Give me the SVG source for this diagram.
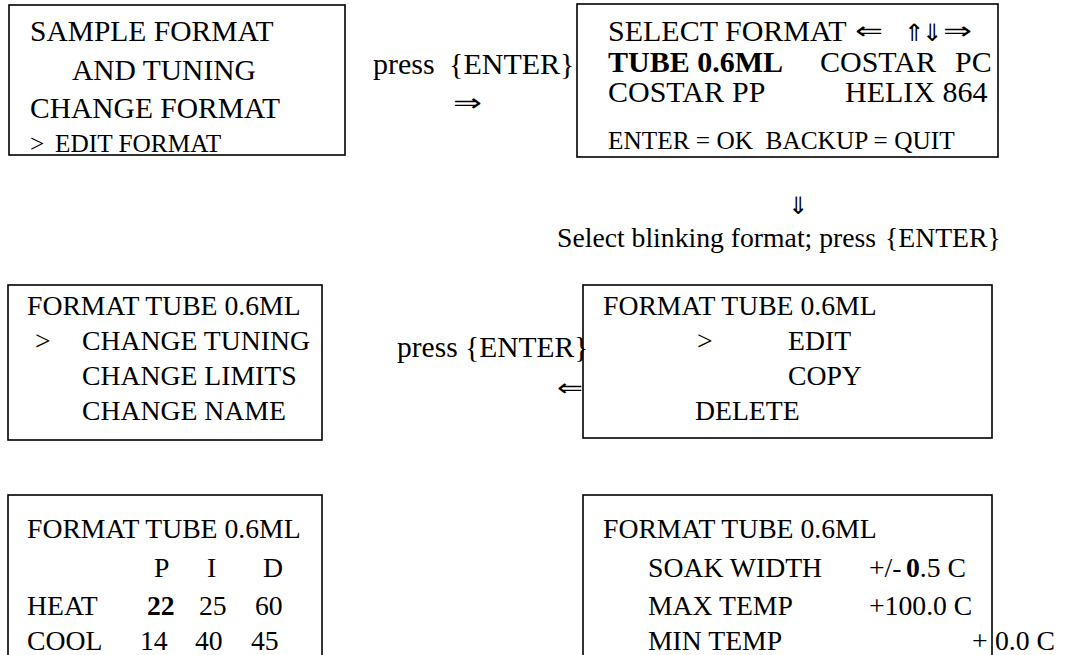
<svg xmlns="http://www.w3.org/2000/svg" width="1083" height="655" viewBox="0 0 1083 655" font-family="'Liberation Serif', 'Times New Roman', Times, 'DejaVu Serif', serif">
<style>
.box{fill:#fff;stroke:#000;stroke-width:1.6}
text{fill:#000}
.t30{font-size:30px}
.t29{font-size:29.5px}
.t27{font-size:27.7px}
.t25{font-size:25.3px}
.b{font-weight:bold}
.ar{font-family:"DejaVu Sans","DejaVu Serif",sans-serif}
</style>
<rect width="1083" height="655" fill="#fff"/>
<g id="node-sample">
<rect class="box" x="9" y="5" width="336" height="150"/>
<text class="t29" x="30" y="41">SAMPLE FORMAT</text>
<text class="t29" x="72" y="80">AND TUNING</text>
<text class="t29" x="30" y="118">CHANGE FORMAT</text>
<text class="t25" y="152"><tspan x="30">&gt;</tspan><tspan x="55">EDIT FORMAT</tspan></text>
</g>
<g id="node-select">
<rect class="box" x="577" y="4" width="421" height="153"/>
<text class="t30" x="608" y="41">SELECT FORMAT</text>
<text class="ar" x="855" y="39" font-size="24" textLength="28" lengthAdjust="spacingAndGlyphs">⇐</text>
<text class="ar" x="904" y="41" font-size="24">⇑</text>
<text class="ar" x="922" y="41" font-size="24">⇓</text>
<text class="ar" x="943" y="39" font-size="24" textLength="29" lengthAdjust="spacingAndGlyphs">⇒</text>
<text class="t30" y="72"><tspan class="b" x="608">TUBE 0.6ML</tspan><tspan x="820">COSTAR</tspan><tspan x="955">PC</tspan></text>
<text class="t30" y="102"><tspan x="608">COSTAR</tspan><tspan x="732">PP</tspan><tspan x="845">HELIX 864</tspan></text>
<text class="t25" x="608" y="149" xml:space="preserve">ENTER = OK  BACKUP = QUIT</text>
</g>
<g id="node-menu">
<rect class="box" x="8" y="285" width="314" height="155"/>
<text class="t27" x="27" y="315">FORMAT TUBE 0.6ML</text>
<text class="t27" y="350"><tspan x="35">&gt;</tspan><tspan x="82">CHANGE TUNING</tspan></text>
<text class="t27" x="82" y="385">CHANGE LIMITS</text>
<text class="t27" x="82" y="420">CHANGE NAME</text>
</g>
<g id="node-edit">
<rect class="box" x="583" y="285" width="409" height="153"/>
<text class="t27" x="603" y="315">FORMAT TUBE 0.6ML</text>
<text class="t27" y="350"><tspan x="697">&gt;</tspan><tspan x="788">EDIT</tspan></text>
<text class="t27" x="788" y="385">COPY</text>
<text class="t27" x="695" y="420">DELETE</text>
</g>
<g id="node-tuning">
<rect class="box" x="8" y="495" width="314" height="200"/>
<text class="t27" x="27" y="538">FORMAT TUBE 0.6ML</text>
<text class="t27" y="577"><tspan x="154">P</tspan><tspan x="207">I</tspan><tspan x="263">D</tspan></text>
<text class="t27" y="615"><tspan x="27">HEAT</tspan><tspan class="b" x="147">22</tspan><tspan x="199">25</tspan><tspan x="255">60</tspan></text>
<text class="t27" y="650"><tspan x="27">COOL</tspan><tspan x="140">14</tspan><tspan x="195">40</tspan><tspan x="251">45</tspan></text>
</g>
<g id="node-limits">
<rect class="box" x="583" y="495" width="409" height="200"/>
<text class="t27" x="603" y="538">FORMAT TUBE 0.6ML</text>
<text class="t27" y="577"><tspan x="648">SOAK WIDTH</tspan><tspan x="869">+/-</tspan><tspan class="b" x="906">0</tspan><tspan>.5 C</tspan></text>
<text class="t27" y="615"><tspan x="648">MAX TEMP</tspan><tspan x="869">+100.0 C</tspan></text>
<text class="t27" y="650"><tspan x="648">MIN TEMP</tspan><tspan x="972">+</tspan><tspan x="995">0.0 C</tspan></text>
</g>
<g id="connectors">
<text class="t30" y="74"><tspan x="373">press</tspan><tspan x="449">{ENTER}</tspan></text>
<text class="ar" x="453" y="111" font-size="24" textLength="29" lengthAdjust="spacingAndGlyphs">⇒</text>
<text class="ar" x="788" y="214" font-size="24">⇓</text>
<text class="t27" y="247"><tspan x="557">Select blinking format; press</tspan><tspan x="885">{ENTER}</tspan></text>
<text class="t29" x="397" y="357">press {ENTER}</text>
<text class="ar" x="557" y="396" font-size="24" textLength="26" lengthAdjust="spacingAndGlyphs">⇐</text>
</g>
</svg>
